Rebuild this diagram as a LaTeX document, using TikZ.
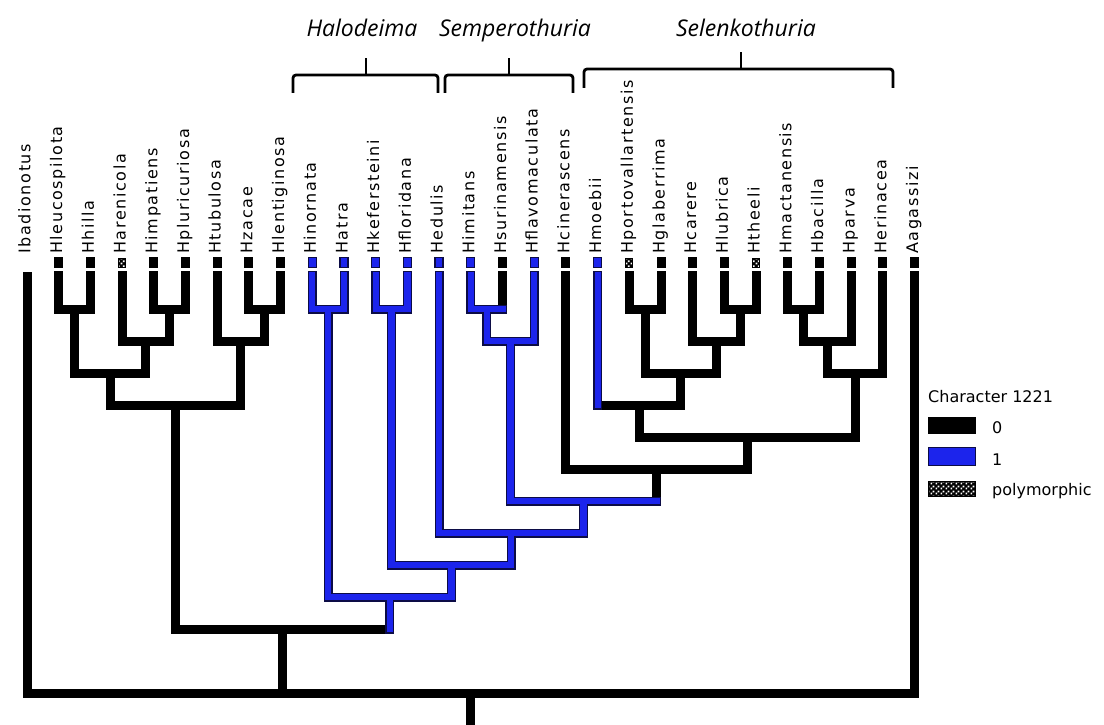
\documentclass[tikz,border=0pt]{standalone}
\usepackage{fontspec}
\setmainfont{DejaVu Sans}
\newfontfamily\leaffont[LetterSpace=10]{DejaVu Sans}
\newfontfamily\cladefont{Open Sans}
\usetikzlibrary{calc,patterns}
\definecolor{stateblue}{RGB}{28,36,236}
\definecolor{rimblue}{RGB}{12,12,70}

% staggered dots used for polymorphic states (white on black)
\pgfdeclarepatternformonly{polydots}{\pgfpointorigin}{\pgfqpoint{5pt}{5pt}}{\pgfqpoint{5pt}{5pt}}{%
  \pgfpathrectangle{\pgfqpoint{0.6pt}{0.6pt}}{\pgfqpoint{2pt}{2pt}}%
  \pgfpathrectangle{\pgfqpoint{3.1pt}{3.1pt}}{\pgfqpoint{2pt}{2pt}}%
  \pgfusepath{fill}}

% internal node: name, left child, right child, height of its crossbar
\newcommand\defnode[4]{%
  \path ($(#2)!.5!(#3)$) coordinate (m#1);
  \coordinate (#1) at (m#1 |- 0,#4);}

% branches in state 1, drawn once as rim and once as fill
\newcommand\bluebranches[1]{%
  \draw[#1]
    (t9) -- (t9 |- bA) (t10) -- (t10 |- bA) (t9 |- bA) -- (t10 |- bA) (bA) -- (bA |- c5)
    (t11) -- (t11 |- bB) (t12) -- (t12 |- bB) (t11 |- bB) -- (t12 |- bB) (bB) -- (bB |- c4)
    (t13) -- (t13 |- c3)
    (t14) -- (t14 |- bC) (t14 |- bC) -- (t15 |- bC) (bC) -- (bC |- bD)
    (t16) -- (t16 |- bD) (bC |- bD) -- (t16 |- bD) (bD) -- (bD |- c2)
    (bD |- c2) -- (c1 |- c2) (c2) -- (c2 |- c3)
    (t13 |- c3) -- (c2 |- c3) (c3) -- (c3 |- c4)
    (bB |- c4) -- (c3 |- c4) (c4) -- (c4 |- c5)
    (bA |- c5) -- (c4 |- c5) (c5) -- (c5 |- ing)
    (t18) -- (t18 |- s5);}

\tikzset{
  leaflabel/.style={rotate=90, anchor=base west, inner sep=0pt,
    font=\leaffont\fontsize{16}{19}\selectfont},
  legendtxt/.style={anchor=base west, inner sep=0pt,
    font=\fontsize{16}{19}\selectfont},
  cladetxt/.style={anchor=base, inner sep=0pt,
    font=\cladefont\itshape\fontsize{23}{27}\selectfont},
  blk/.style={line width=9pt, line cap=rect, black},
  bluerim/.style={line width=9pt, line cap=rect, rimblue},
  bluefill/.style={line width=6.2pt, line cap=rect, stateblue},
  polyfill/.style={preaction={fill=black}, pattern=polydots, pattern color=white},
  tipboxk/.style={inner sep=0pt, minimum width=9pt, minimum height=11pt, fill=black},
  tipboxb/.style={inner sep=0pt, minimum width=8pt, minimum height=10pt,
    fill=stateblue, draw=rimblue, line width=1.3pt},
  tipboxp/.style={inner sep=0pt, minimum width=7pt, minimum height=9pt,
    draw=black, line width=0.9pt, polyfill},
  tipboxn/.style={inner sep=0pt, minimum size=0pt},
  bracket/.style={line width=2.8pt, rounded corners=3pt, black},
}

\begin{document}
\begin{tikzpicture}[x=1pt, y=-1pt]
\useasboundingbox (0,0) rectangle (1104,725);

% terminal taxa: tip, state box and label
\foreach \i/\nm/\st in {
  0/Ibadionotus/n, 1/Hleucospilota/k, 2/Hhilla/k, 3/Harenicola/p,
  4/Himpatiens/k, 5/Hpluricuriosa/k, 6/Htubulosa/k, 7/Hzacae/k,
  8/Hlentiginosa/k, 9/Hinornata/b, 10/Hatra/b, 11/Hkefersteini/b,
  12/Hfloridana/b, 13/Hedulis/b, 14/Himitans/b, 15/Hsurinamensis/k,
  16/Hflavomaculata/b, 17/Hcinerascens/k, 18/Hmoebii/b,
  19/Hportovallartensis/p, 20/Hglaberrima/k, 21/Hcarere/k, 22/Hlubrica/k,
  23/Htheeli/p, 24/Hmactanensis/k, 25/Hbacilla/k, 26/Hparva/k,
  27/Herinacea/k, 28/Aagassizi/k}
{
  \pgfmathsetmacro\xx{27+31.7*\i}
  \coordinate (t\i) at (\xx, 275.5);
  \node[tipbox\st] (box\i) at (\xx, 262.5) {};
  \node[leaflabel] (lab\i) at (\xx+3.5, 254) {\nm};
}
\coordinate (t0) at (27, 276.5);

% internal nodes
\defnode{lc1}{t1}{t2}{309}
\defnode{lc2}{t4}{t5}{309}
\defnode{lc3}{t3}{lc2}{341}
\defnode{lc4}{lc1}{lc3}{373}
\defnode{lc5}{t7}{t8}{309}
\defnode{lc6}{t6}{lc5}{341}
\defnode{lc7}{lc4}{lc6}{405}
\defnode{bA}{t9}{t10}{309}
\defnode{bB}{t11}{t12}{309}
\defnode{bC}{t14}{t15}{309}
\defnode{bD}{bC}{t16}{341}
\defnode{s1}{t19}{t20}{309}
\defnode{s2}{t22}{t23}{309}
\defnode{s3}{t21}{s2}{341}
\defnode{s4}{s1}{s3}{373}
\defnode{s5}{t18}{s4}{405}
\defnode{s6}{t24}{t25}{309}
\defnode{s7}{s6}{t26}{341}
\defnode{s8}{s7}{t27}{373}
\defnode{s9}{s5}{s8}{437}
\defnode{c1}{t17}{s9}{469}
\defnode{c2}{bD}{c1}{501}
\defnode{c3}{t13}{c2}{533}
\defnode{c4}{bB}{c3}{565}
\defnode{c5}{bA}{c4}{597}
\defnode{ing}{lc7}{c5}{629}
\defnode{root}{t0}{t28}{693}

% branches in state 0
\draw[blk]
  (t0) -- (t0 |- root) (t28) -- (t28 |- root) (t0 |- root) -- (t28 |- root)
  (t1) -- (t1 |- lc1) (t2) -- (t2 |- lc1) (t1 |- lc1) -- (t2 |- lc1) (lc1) -- (lc1 |- lc4)
  (t4) -- (t4 |- lc2) (t5) -- (t5 |- lc2) (t4 |- lc2) -- (t5 |- lc2) (lc2) -- (lc2 |- lc3)
  (t3) -- (t3 |- lc3) (t3 |- lc3) -- (lc2 |- lc3) (lc3) -- (lc3 |- lc4)
  (lc1 |- lc4) -- (lc3 |- lc4) (lc4) -- (lc4 |- lc7)
  (t7) -- (t7 |- lc5) (t8) -- (t8 |- lc5) (t7 |- lc5) -- (t8 |- lc5) (lc5) -- (lc5 |- lc6)
  (t6) -- (t6 |- lc6) (t6 |- lc6) -- (lc5 |- lc6) (lc6) -- (lc6 |- lc7)
  (lc4 |- lc7) -- (lc6 |- lc7) (lc7) -- (lc7 |- ing)
  (lc7 |- ing) -- (c5 |- ing) (ing) -- (ing |- root)
  (t15) -- (t15 |- bC)
  (t17) -- (t17 |- c1) (t17 |- c1) -- (s9 |- c1) (c1) -- (c1 |- c2)
  (t19) -- (t19 |- s1) (t20) -- (t20 |- s1) (t19 |- s1) -- (t20 |- s1) (s1) -- (s1 |- s4)
  (t22) -- (t22 |- s2) (t23) -- (t23 |- s2) (t22 |- s2) -- (t23 |- s2) (s2) -- (s2 |- s3)
  (t21) -- (t21 |- s3) (t21 |- s3) -- (s2 |- s3) (s3) -- (s3 |- s4)
  (s1 |- s4) -- (s3 |- s4) (s4) -- (s4 |- s5)
  (t18 |- s5) -- (s4 |- s5) (s5) -- (s5 |- s9)
  (t24) -- (t24 |- s6) (t25) -- (t25 |- s6) (t24 |- s6) -- (t25 |- s6) (s6) -- (s6 |- s7)
  (t26) -- (t26 |- s7) (s6 |- s7) -- (t26 |- s7) (s7) -- (s7 |- s8)
  (t27) -- (t27 |- s8) (s7 |- s8) -- (t27 |- s8) (s8) -- (s8 |- s9)
  (s5 |- s9) -- (s8 |- s9) (s9) -- (s9 |- c1);
\draw[line width=9pt, black] (root) -- (root |- 0,725);

% branches in state 1
\bluebranches{bluerim}
\bluebranches{bluefill}

% clade brackets and names
\draw[bracket] (293,93) -- (293,75) -- (438,75) -- (438,93);
\draw[line width=2.8pt] (366,75) -- (366,58);
\draw[bracket] (445,93) -- (445,75) -- (573,75) -- (573,93);
\draw[line width=2.8pt] (509,75) -- (509,58);
\draw[bracket] (584,88) -- (584,69) -- (893,69) -- (893,88);
\draw[line width=2.8pt] (741,69) -- (741,52);
\node[cladetxt] (halodeima) at (362,37) {Halodeima};
\node[cladetxt] (semperothuria) at (515,37) {Semperothuria};
\node[cladetxt] (selenkothuria) at (746,37) {Selenkothuria};

% legend
\node[legendtxt] (legtitle) at (928,402) {Character 1221};
\node[inner sep=0pt, minimum width=48pt, minimum height=17pt, fill=black] (key0) at (952,425.5) {};
\node[legendtxt] (lab0) at (992,433) {0};
\node[inner sep=0pt, minimum width=47pt, minimum height=18pt, fill=stateblue, draw=rimblue, line width=1.3pt] (key1) at (952,456.5) {};
\node[legendtxt] (lab1) at (992,465) {1};
\node[inner sep=0pt, minimum width=47pt, minimum height=15pt, draw=black, line width=0.9pt, polyfill] (keyp) at (952,489) {};
\node[legendtxt] (labp) at (992,495) {polymorphic};
\end{tikzpicture}
\end{document}
